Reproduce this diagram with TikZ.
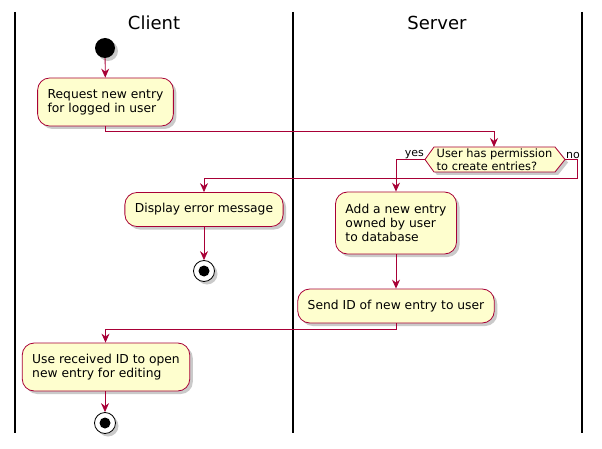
\documentclass[tikz,border=0pt]{standalone}
\usepackage{fontspec}
\setmainfont{DejaVu Sans}
\usetikzlibrary{arrows.meta,shadows,shapes.geometric}
\definecolor{puborder}{HTML}{A80036}
\definecolor{pufill}{HTML}{FEFECE}
\tikzset{
  x=1pt,y=-1pt,
  lane/.style={line width=1.5pt,black},
  lanetitle/.style={font=\fontsize{18}{20}\selectfont,inner sep=0pt},
  act/.style={draw=puborder,fill=pufill,line width=0.8pt,rounded corners=12pt,
    align=left,inner xsep=10pt,inner ysep=0pt,font=\fontsize{12.3}{14}\selectfont,
    drop shadow={shadow xshift=3pt,shadow yshift=-3pt,opacity=0.35,fill=black!60}},
  conn/.style={draw=puborder,line width=0.8pt,-{Stealth[length=9pt,width=8pt,inset=3pt]}},
  lbl/.style={font=\fontsize{11}{13}\selectfont,inner sep=0pt},
  startnode/.style={circle,fill=black,minimum size=20pt,inner sep=0pt,
    drop shadow={shadow xshift=3pt,shadow yshift=-3pt,opacity=0.35,fill=black!60}},
  endouter/.style={circle,draw=black,line width=0.8pt,fill=white,minimum size=21pt,inner sep=0pt,
    drop shadow={shadow xshift=3pt,shadow yshift=-3pt,opacity=0.35,fill=black!60}},
  endinner/.style={circle,fill=black,minimum size=11pt,inner sep=0pt},
}
\begin{document}
\begin{tikzpicture}
\useasboundingbox (0,0) rectangle (602,449);
% lanes
\draw[lane] (15,12) -- (15,433);
\draw[lane] (293,12) -- (293,433);
\draw[lane] (582,12) -- (582,433);
\node[lanetitle] (tc) at (154,23) {Client};
\node[lanetitle] (ts) at (437,23) {Server};

% start
\node[startnode] (start) at (105,48) {};
\node[act,minimum height=48pt] (req) at (105.5,102) {Request new entry\\for logged in user};

% decision
\path[draw=puborder,fill=pufill,line width=0.8pt,
  drop shadow={shadow xshift=3pt,shadow yshift=-3pt,opacity=0.35,fill=black!60}]
  (425,159.5) -- (434,147) -- (555,147) -- (565,159.5) -- (555,172) -- (434,172) -- cycle;
\coordinate (decL) at (425,159.5);
\coordinate (decR) at (565,159.5);
\coordinate (decT) at (494,147);
\node[lbl,font=\fontsize{11.4}{13}\selectfont,align=left,anchor=west] (dectext) at (436.5,159.5) {User has permission\\to create entries?};
\node[lbl,anchor=south east] (yes) at (424,159) {yes};
\node[lbl,anchor=south west] (no) at (566,159) {no};

\node[act,minimum height=34pt] (err) at (204,209.5) {Display error message};
\node[endouter] (end1) at (204,271) {};
\node[endinner] (end1i) at (204,271) {};

\node[act,minimum height=62pt] (add) at (396,223) {Add a new entry\\owned by user\\to database};
\node[act,minimum height=34pt] (send) at (396,306) {Send ID of new entry to user};

\node[act,minimum height=48pt] (use) at (106,367) {Use received ID to open\\new entry for editing};
\node[endouter] (end2) at (105,423) {};
\node[endinner] (end2i) at (105,423) {};

% connectors
\draw[conn] (start) -- (req);
\draw[conn] (req.south) -- ++(0,5) -| (decT);
\draw[conn] (decL) -| (add.north);
\draw[conn] (decR) -- ++(12,0) |- (204,178) -- (err.north);
\draw[conn] (err) -- (end1);
\draw[conn] (add) -- (send);
\draw[conn] (send.south) -- ++(0,6) -| (use.north -| req.south);
\draw[conn] (use.south -| end2) -- (end2);
\end{tikzpicture}
\end{document}
